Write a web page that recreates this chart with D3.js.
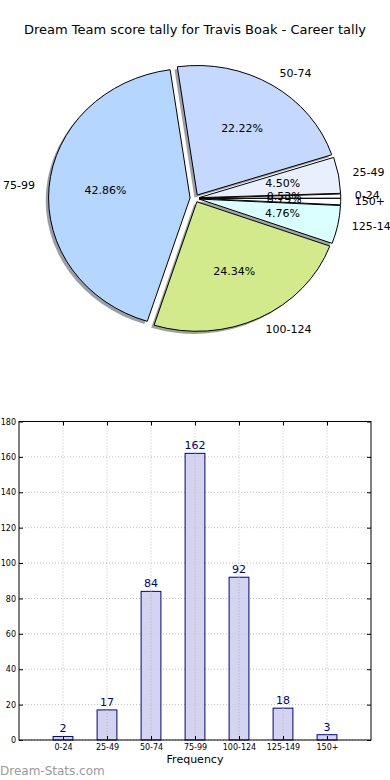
<!DOCTYPE html>
<html>
<head>
<meta charset="utf-8">
<script src="https://cdn.jsdelivr.net/npm/d3@7"></script>
<style>
  html, body { margin: 0; padding: 0; background: #fff; }
  svg { display: block; font-family: "DejaVu Sans", sans-serif; }
</style>
</head>
<body>
<svg id="chart" width="390" height="780"></svg>
<script>
const title = "Dream Team score tally for Travis Boak - Career tally";
const categories = ["0-24", "25-49", "50-74", "75-99", "100-124", "125-149", "150+"];
const counts = [2, 17, 84, 162, 92, 18, 3];
const sliceColors = ["#ffffff", "#e9f0fd", "#c5d9ff", "#b5d6ff", "#d2ea8c", "#d9ffff", "#ffffff"];
const explode = [0.03, 0.03, 0.03, 0.035, 0.03, 0.03, 0.03];
const yTicks = [0, 20, 40, 60, 80, 100, 120, 140, 160, 180];
const xLabel = "Frequency";
const watermark = "Dream-Stats.com";

(function () {
const svg = d3.select("#chart");

svg.append("text")
  .attr("x", 195).attr("y", 30)
  .attr("text-anchor", "middle").attr("dominant-baseline", "middle")
  .attr("font-size", 13).attr("fill", "#000")
  .text(title);

// ---------- PIE ----------
const cx = 195, cy = 198.3, rx = 141.5, ry = 129.5;
const k = ry / rx;
const total = d3.sum(counts);

const pie = d3.pie().sort(null).startAngle(Math.PI / 2).endAngle(Math.PI / 2 - 2 * Math.PI);
const arcs = pie(counts);
const arc = d3.arc().innerRadius(0).outerRadius(rx);

function midTheta(d) {
  const a = (d.startAngle + d.endAngle) / 2;
  return Math.PI / 2 - a;
}
function offset(d, i, frac) {
  const t = midTheta(d);
  return [frac * rx * Math.cos(t), -frac * ry * Math.sin(t)];
}
function darker(c) {
  const col = d3.rgb(c);
  return d3.rgb(col.r * 0.3, col.g * 0.3, col.b * 0.3).toString();
}

const pieG = svg.append("g");
arcs.forEach((d, i) => {
  const [ox, oy] = offset(d, i, explode[i]);
  pieG.append("path")
    .attr("d", arc(d))
    .attr("transform", `translate(${cx + ox - 0.02 * rx},${cy + oy + 0.02 * ry}) scale(1,${k})`)
    .attr("fill", darker(sliceColors[i]))
    .attr("fill-opacity", 0.5)
    .attr("stroke", "none");
});
arcs.forEach((d, i) => {
  const [ox, oy] = offset(d, i, explode[i]);
  pieG.append("path")
    .attr("d", arc(d))
    .attr("transform", `translate(${cx + ox},${cy + oy}) scale(1,${k})`)
    .attr("fill", sliceColors[i])
    .attr("stroke", "#000")
    .attr("stroke-width", 1)
    .attr("vector-effect", "non-scaling-stroke")
    .attr("stroke-linejoin", "round");
});
arcs.forEach((d, i) => {
  const [ox, oy] = offset(d, i, explode[i]);
  const t = midTheta(d);
  const lx = cx + ox + 1.1 * rx * Math.cos(t);
  const ly = cy + oy - 1.1 * ry * Math.sin(t);
  pieG.append("text")
    .attr("x", lx).attr("y", ly)
    .attr("text-anchor", Math.cos(t) > 0 ? "start" : "end")
    .attr("dominant-baseline", "middle")
    .attr("font-size", 11).attr("fill", "#000")
    .text(categories[i]);
  const px = cx + ox + 0.6 * rx * Math.cos(t);
  const py = cy + oy - 0.6 * ry * Math.sin(t);
  pieG.append("text")
    .attr("x", px).attr("y", py)
    .attr("text-anchor", "middle")
    .attr("dominant-baseline", "middle")
    .attr("font-size", 11).attr("fill", "#000")
    .text((counts[i] / total * 100).toFixed(2) + "%");
});

// ---------- BAR CHART ----------
const pLeft = 19, pRight = 371, pTop = 421.5, pBottom = 740;
const x = d3.scaleLinear().domain([-1, categories.length]).range([pLeft, pRight]);
const y = d3.scaleLinear().domain([0, 180]).range([pBottom, pTop]);
const barW = x(0.45) - x(0);
const g = svg.append("g");

const gridColor = "#bdbdbd";
g.selectAll(".hgrid").data(yTicks).enter().append("line")
  .attr("x1", pLeft).attr("x2", pRight)
  .attr("y1", d => y(d)).attr("y2", d => y(d))
  .attr("stroke", gridColor).attr("stroke-width", 1).attr("stroke-dasharray", "1,2");
g.selectAll(".vgrid").data(categories).enter().append("line")
  .attr("x1", (d, i) => x(i)).attr("x2", (d, i) => x(i))
  .attr("y1", pTop).attr("y2", pBottom)
  .attr("stroke", gridColor).attr("stroke-width", 1).attr("stroke-dasharray", "1,2");

g.selectAll(".bar").data(counts).enter().append("rect")
  .attr("x", (d, i) => x(i) - barW / 2)
  .attr("y", d => y(d))
  .attr("width", barW)
  .attr("height", d => y(0) - y(d))
  .attr("fill", "#ccccee").attr("fill-opacity", 0.85)
  .attr("stroke", "#000080").attr("stroke-width", 1);

g.selectAll(".vgrid2").data(categories).enter().append("line")
  .attr("x1", (d, i) => x(i)).attr("x2", (d, i) => x(i))
  .attr("y1", (d, i) => y(counts[i])).attr("y2", pBottom)
  .attr("stroke", "#b4b4c6").attr("stroke-width", 1).attr("stroke-dasharray", "1,2");

g.selectAll(".val").data(counts).enter().append("text")
  .attr("x", (d, i) => x(i)).attr("y", d => y(d) - 4)
  .attr("text-anchor", "middle")
  .attr("font-size", 11).attr("fill", "#000080")
  .text(d => d);

const yAxis = d3.axisLeft(y).tickValues(yTicks).tickSize(-4).tickPadding(3);
const yg = g.append("g").attr("transform", `translate(${pLeft},0)`).call(yAxis);
const yAxisR = d3.axisRight(y).tickValues(yTicks).tickSize(-4).tickFormat("");
const ygr = g.append("g").attr("transform", `translate(${pRight},0)`).call(yAxisR);
const xIdx = categories.map((c, i) => i);
const xAxis = d3.axisBottom(x).tickValues(xIdx).tickSize(-4).tickPadding(4).tickFormat(i => categories[i]);
const xg = g.append("g").attr("transform", `translate(0,${pBottom})`).call(xAxis);
const xAxisT = d3.axisTop(x).tickValues(xIdx).tickSize(-4).tickFormat("");
const xgt = g.append("g").attr("transform", `translate(0,${pTop})`).call(xAxisT);
[yg, ygr, xg, xgt].forEach(a => {
  a.select(".domain").remove();
  a.selectAll(".tick line").attr("stroke", "#000");
  a.selectAll(".tick text").attr("font-size", 8).attr("fill", "#000").attr("font-family", "DejaVu Sans, sans-serif");
});
g.append("rect")
  .attr("x", pLeft).attr("y", pTop)
  .attr("width", pRight - pLeft).attr("height", pBottom - pTop)
  .attr("fill", "none").attr("stroke", "#000").attr("stroke-width", 1);

g.append("text")
  .attr("x", (pLeft + pRight) / 2).attr("y", 760)
  .attr("text-anchor", "middle").attr("dominant-baseline", "middle")
  .attr("font-size", 11).attr("fill", "#000")
  .text(xLabel);

svg.append("text")
  .attr("x", 0).attr("y", 771)
  .attr("dominant-baseline", "middle")
  .attr("font-size", 12).attr("fill", "#9a9a9a")
  .text(watermark);
})();
</script>
</body>
</html>
